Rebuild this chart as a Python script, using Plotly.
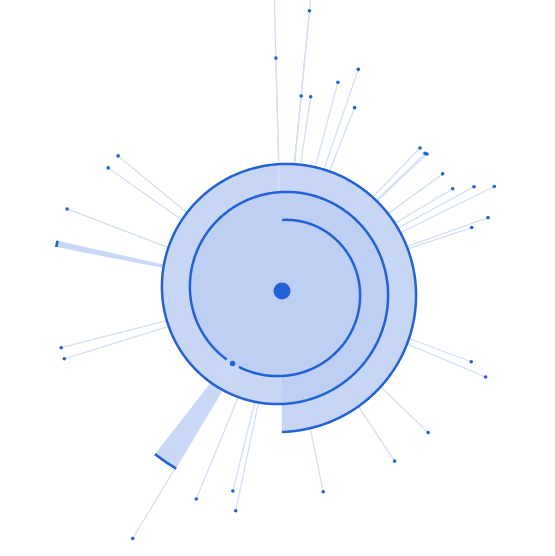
import numpy as np
import plotly.graph_objects as go

# ---------------- spiral scale (position along spiral in degrees -> radius) ----------
SPIRAL_SPAN = 900.0      # two and a half turns, clockwise from 12 o'clock
SPIRAL_R0 = 71.0
SPIRAL_R1 = 141.0


def spiral_r(t):
    return SPIRAL_R0 + (SPIRAL_R1 - SPIRAL_R0) * np.asarray(t, float) / SPIRAL_SPAN


# ---------------- data ----------------
# point events: position on the spiral (deg) and radius of the end dot
spoke_t = [358.5, 358.5, 725.6, 725.6, 725.6, 728.4, 735.0, 739.0, 741.6,
           764.0, 766.1, 766.6, 773.9, 779.1, 781.5, 783.8, 790.4, 791.5,
           830.5, 832.9, 854.1, 866.5, 888.4,
           551.9, 553.8, 562.4, 571.1, 612.7, 615.6, 650.9, 665.3, 669.5]
spoke_end = [233.0, 340.0, 196.0, 281.6, 340.0, 196.4, 216.0, 234.4, 197.2,
             198.7, 198.5, 199.5, 198.8, 199.0, 218.5, 236.6, 218.7, 200.0,
             202.0, 221.0, 203.5, 204.0, 204.9,
             224.5, 206.0, 225.0, 289.0, 228.0, 228.0, 230.0, 213.0, 212.4]

# duration events (wedges): spiral position (deg), angular width (deg), end radius
wedge_t = [214.35, 281.8]
wedge_width = [7.1, 1.6]
wedge_end = [206.7, 230.0]

# highlighted position on the spiral
mark_t = [214.35]

# ---------------- style ----------------
DARK = "#2261d8"
FILL_IN = "#bdcff3"
FILL_OUT = "#c6d6f4"
SPOKE = "#d3dff7"
WEDGE = "#c9d8f5"

R_VIEW = 320          # radial range shown (1 unit = 1 px)
CENTER = (282, 291)   # where the pole sits in the window

fig = go.Figure()

# inner (older) part of the spiral area: bounded by turn t in [180, 540]
t_in = np.arange(180, 540.01, 0.5)
fig.add_trace(go.Scatterpolar(
    theta=np.append(t_in % 360, 180.0), r=np.append(spiral_r(t_in), float(spiral_r(180))),
    mode="lines", fill="toself", fillcolor=FILL_IN, line=dict(width=0, color=FILL_IN),
    hoverinfo="skip"))

# outermost band of the spiral area, built from thin wedges
step = 1.0
t_fill = np.arange(540, SPIRAL_SPAN, step) + step / 2
r_top = spiral_r(t_fill)
r_base = spiral_r(t_fill - 360)
fig.add_trace(go.Barpolar(
    theta=t_fill % 360, r=r_top - r_base, base=r_base, width=step * 1.25,
    marker=dict(color=FILL_OUT, line=dict(width=0)),
    hoverinfo="skip"))

# wedges
w_base = spiral_r(wedge_t)
fig.add_trace(go.Barpolar(
    theta=np.array(wedge_t) % 360, r=np.array(wedge_end) - w_base, base=w_base,
    width=wedge_width, marker=dict(color=WEDGE, line=dict(width=0)),
    hoverinfo="skip"))

# spokes
for t, e in zip(spoke_t, spoke_end):
    fig.add_trace(go.Scatterpolar(
        theta=[t % 360, t % 360], r=[float(spiral_r(t)), e], mode="lines",
        line=dict(color=SPOKE, width=1.3), hoverinfo="skip"))

# wedge end caps
for t, w, e in zip(wedge_t, wedge_width, wedge_end):
    th = np.linspace(t - w / 2, t + w / 2, 12) % 360
    fig.add_trace(go.Scatterpolar(
        theta=th, r=[e] * len(th), mode="lines",
        line=dict(color=DARK, width=2.6), hoverinfo="skip"))

# spiral line with a gap around the highlighted position
t_line = np.arange(0, SPIRAL_SPAN + 0.5, 0.5)
gap = 4.5
segments = []
prev = 0.0
for m in mark_t:
    segments.append((prev, m - gap))
    prev = m + gap
segments.append((prev, SPIRAL_SPAN))
for a, b in segments:
    tt = t_line[(t_line >= a) & (t_line <= b)]
    fig.add_trace(go.Scatterpolar(
        theta=tt % 360, r=spiral_r(tt), mode="lines",
        line=dict(color=DARK, width=2.5), hoverinfo="skip"))

# spoke end dots
fig.add_trace(go.Scatterpolar(
    theta=np.array(spoke_t) % 360, r=spoke_end, mode="markers",
    marker=dict(color=DARK, size=3.6), hoverinfo="skip"))

# highlighted spiral position
fig.add_trace(go.Scatterpolar(
    theta=np.array(mark_t) % 360, r=spiral_r(mark_t), mode="markers",
    marker=dict(color=DARK, size=5.5), hoverinfo="skip"))

# center
fig.add_trace(go.Scatterpolar(
    theta=[0], r=[0], mode="markers",
    marker=dict(color=DARK, size=17), hoverinfo="skip"))

fig.update_layout(
    width=2 * R_VIEW, height=2 * R_VIEW, margin=dict(l=0, r=0, t=0, b=0),
    paper_bgcolor="rgba(0,0,0,0)", plot_bgcolor="rgba(0,0,0,0)", showlegend=False,
    polar=dict(
        domain=dict(x=[0, 1], y=[0, 1]),
        bgcolor="rgba(0,0,0,0)", barmode="overlay",
        radialaxis=dict(visible=False, range=[0, R_VIEW]),
        angularaxis=dict(visible=False, rotation=90, direction="clockwise"),
    ),
)

post = (
    "document.documentElement.style.overflow='hidden';"
    "document.body.style.overflow='hidden';"
    "document.body.style.margin='0';"
    "document.body.style.background='white';"
    "var g=document.getElementById('{plot_id}');"
    "g.style.position='absolute';"
    "g.style.left='%dpx';g.style.top='%dpx';" % (CENTER[0] - R_VIEW, CENTER[1] - R_VIEW)
)

fig.write_html("out.html", post_script=post)
